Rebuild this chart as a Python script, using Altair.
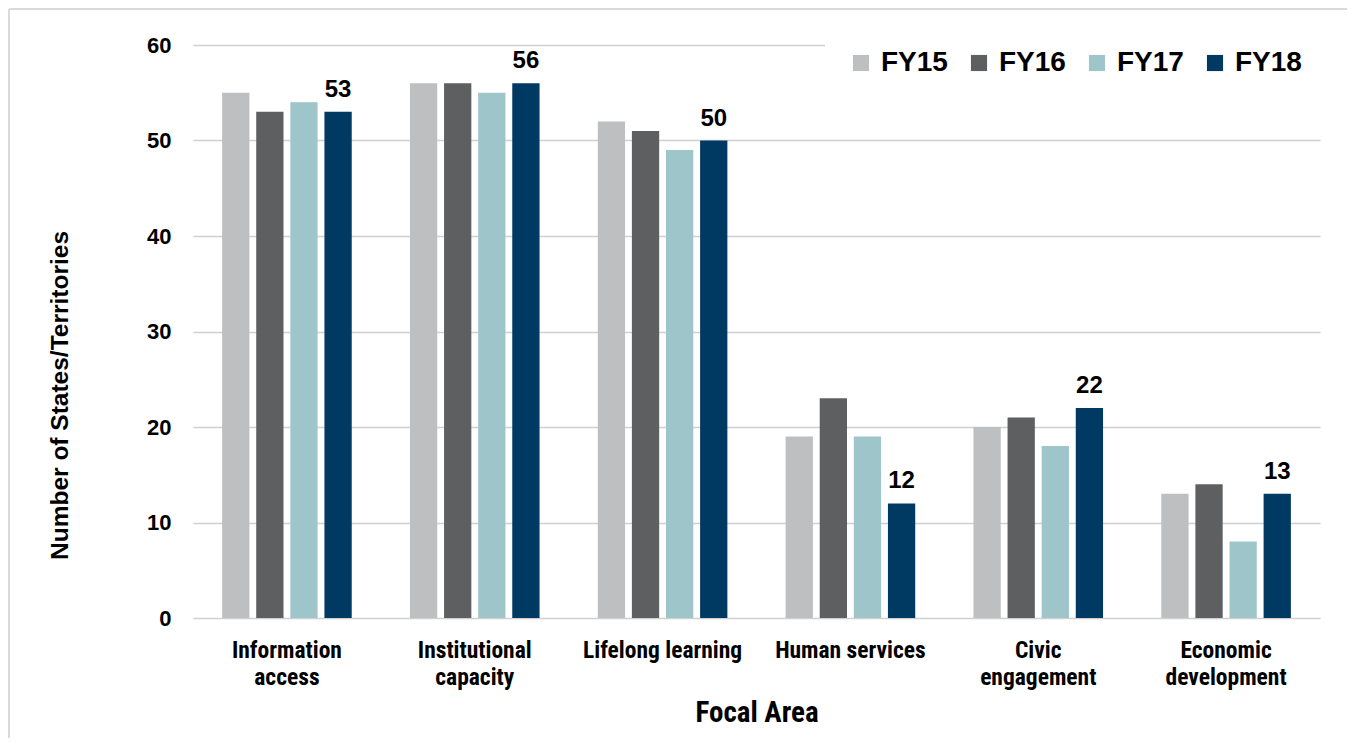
import altair as alt
import pandas as pd

categories = ["Information access", "Institutional capacity", "Lifelong learning",
              "Human services", "Civic engagement", "Economic development"]
label_lines = {
    "Information access": ["Information", "access"],
    "Institutional capacity": ["Institutional", "capacity"],
    "Lifelong learning": ["Lifelong learning"],
    "Human services": ["Human services"],
    "Civic engagement": ["Civic", "engagement"],
    "Economic development": ["Economic", "development"],
}
years = ["FY15", "FY16", "FY17", "FY18"]
fy15 = [55, 56, 52, 19, 20, 13]
fy16 = [53, 56, 51, 23, 21, 14]
fy17 = [54, 55, 49, 19, 18, 8]
fy18 = [53, 56, 50, 12, 22, 13]
colors = ["#BEBFC1", "#5E5F61", "#9DC5CA", "#003A63"]

rows = []
for yr, vals in zip(years, [fy15, fy16, fy17, fy18]):
    for c, v in zip(categories, vals):
        rows.append({"area": c, "year": yr, "value": v})
df = pd.DataFrame(rows)

expr_parts = []
for c, lines in label_lines.items():
    arr = "[" + ",".join("'" + l + "'" for l in lines) + "]"
    expr_parts.append(f"datum.value == '{c}' ? {arr} : ")
label_expr = "".join(expr_parts) + "datum.label"

NARROW = "Liberation Sans Narrow, Arial Narrow, Roboto Condensed, sans-serif"
SANS = "Liberation Sans, Arial, sans-serif"

W, H = 1127, 573

x_enc = alt.X("area:N", sort=categories,
              scale=alt.Scale(paddingInner=0.31, paddingOuter=0.155),
              axis=alt.Axis(title="Focal Area", labelAngle=0, labelExpr=label_expr,
                            labelFont=NARROW, labelFontSize=23.5, labelFontWeight="bold",
                            labelColor="black", labelLineHeight=27, labelPadding=20,
                            domain=False, ticks=False,
                            titleFont=NARROW, titleFontSize=29, titleFontWeight="bold",
                            titleColor="black", titlePadding=10))
xo_enc = alt.XOffset("year:N", sort=years, scale=alt.Scale(paddingInner=0.2, paddingOuter=0))

bars = alt.Chart(df).mark_bar().encode(
    x=x_enc,
    xOffset=xo_enc,
    y=alt.Y("value:Q", scale=alt.Scale(domain=[0, 60]),
            axis=alt.Axis(title="Number of States/Territories", values=[0, 10, 20, 30, 40, 50, 60],
                          labelFont=SANS, labelFontSize=22, labelFontWeight="bold",
                          labelColor="black", labelPadding=22,
                          domain=False, ticks=False,
                          gridColor="#D0D0D0", gridWidth=1.5,
                          titleFont=SANS, titleFontSize=24.5, titleFontWeight="bold",
                          titleColor="black", titleX=-133, titleY=350, titleAngle=-90,
                          titleAlign="center", titleBaseline="middle")),
    color=alt.Color("year:N", sort=years,
                    scale=alt.Scale(domain=years, range=colors),
                    legend=alt.Legend(title=None, orient="none", legendX=632, legendY=-18,
                                      direction="horizontal", columns=4,
                                      symbolType="square", symbolSize=260,
                                      symbolStrokeWidth=0, symbolOpacity=1,
                                      labelFont=SANS, labelFontSize=28, labelFontWeight="bold",
                                      labelColor="black", labelOffset=6, columnPadding=17,
                                      fillColor="white", padding=22)),
)

labels = alt.Chart(df).transform_filter(alt.datum.year == "FY18").mark_text(
    font=SANS, fontSize=24, fontWeight="bold", color="black", baseline="alphabetic", dy=-15
).encode(
    x=alt.X("area:N", sort=categories),
    xOffset=alt.XOffset("year:N", sort=years),
    y="value:Q",
    text="value:Q",
)

frame_df = pd.DataFrame({"a": [0]})
border_top = alt.Chart(frame_df).mark_rule(color="#DADADA", strokeWidth=2).encode(
    x=alt.value(-184), x2=alt.value(1200), y=alt.value(-36)
)
border_left = alt.Chart(frame_df).mark_rule(color="#DADADA", strokeWidth=2).encode(
    x=alt.value(-184), y=alt.value(-36), y2=alt.value(720)
)

chart = alt.layer(border_top, border_left, bars, labels).properties(
    width=W, height=H,
    background="white",
    autosize=alt.AutoSizeParams(type="none"),
    padding={"left": 185, "top": 37, "right": 27, "bottom": 120},
).configure_view(strokeWidth=0, stroke="transparent")

chart.save("out.html", embed_options={"renderer": "svg", "actions": False})
